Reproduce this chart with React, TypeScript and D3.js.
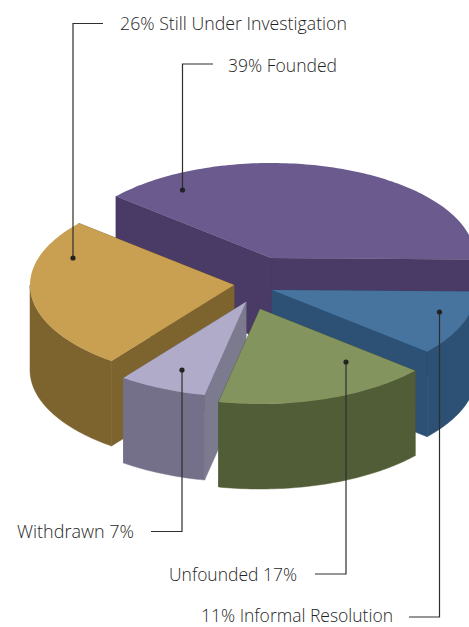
import React from "react";
import * as d3 from "d3";

// Complaint outcomes, clockwise starting from the purple slice.
const categories = ["Founded", "Informal Resolution", "Unfounded", "Withdrawn", "Still Under Investigation"];
const shares = [39, 11, 17, 7, 26];
const labelTexts = ["39% Founded", "11% Informal Resolution", "Unfounded 17%", "Withdrawn 7%", "26% Still Under Investigation"];

const topColors = ["#6a5a8d", "#47749f", "#84945f", "#afabc9", "#c9a052"];
const outerWallColors = ["#4a3a66", "#2c5174", "#515d36", "#747089", "#7d632e"];
const edgeWallColors = ["#4a3a66", "#2c5174", "#515d36", "#7b7a8f", "#7d632e"];

// Pull-out of each slice from the pie's centre, in pixels.
const explodeX = [0, 1, -11, -25, -37];
const explodeY = [0, 32, 51, 44, 27];

// Layout of the leader lines and their captions, same order as categories.
const labelX = [228, 201, 169, 17, 120];
const labelWidth = [109, 192, 128, 117, 227];
const labelBaseline = [72, 622, 581, 538, 30];
const elbowX = [182.5, 439.5, 346, 182, 73];
const elbowY = [64, 617, 574, 531.5, 23.5];
const leaderStartX = [213, 409, 315, 151, 103];
const dotY = [190, 312, 362, 370, 258];

const WIDTH = 469;
const HEIGHT = 627;
const CENTER_X = 271;
const CENTER_Y = 258;
const RADIUS_X = 204;
const RADIUS_Y = 95;
const DEPTH = 85;

// Unit circle to tilted-disc coordinates.
const xScale = d3.scaleLinear().domain([-1, 1]).range([CENTER_X - RADIUS_X, CENTER_X + RADIUS_X]);
const yScale = d3.scaleLinear().domain([-1, 1]).range([CENTER_Y - RADIUS_Y, CENTER_Y + RADIUS_Y]);

const pieAngles = d3
  .pie<number>()
  .sort(null)
  .startAngle((-49.5 * Math.PI) / 180)
  .endAngle((310.5 * Math.PI) / 180)(shares);

type Pt = [number, number];

const rim = (angle: number, i: number, drop = 0): Pt => [
  xScale(Math.sin(angle)) + explodeX[i],
  yScale(-Math.cos(angle)) + explodeY[i] + drop,
];
const apex = (i: number, drop = 0): Pt => [xScale(0) + explodeX[i], yScale(0) + explodeY[i] + drop];

const sampleAngles = (a0: number, a1: number) => {
  const n = Math.max(2, Math.ceil(Math.abs(a1 - a0) / 0.02));
  return d3.range(n + 1).map((k) => a0 + ((a1 - a0) * k) / n);
};

const polygon = d3.line<Pt>().curve(d3.curveLinearClosed);

function sliceParts(i: number) {
  const { startAngle, endAngle } = pieAngles[i];
  const top = polygon([apex(i), ...sampleAngles(startAngle, endAngle).map((a) => rim(a, i))]) as string;
  const edge = (a: number) => polygon([apex(i), rim(a, i), rim(a, i, DEPTH), apex(i, DEPTH)]) as string;
  // Only the part of the rim facing the viewer has a visible side.
  const frontStart = Math.max(startAngle, Math.PI / 2);
  const frontEnd = Math.min(endAngle, (3 * Math.PI) / 2);
  const arcPts = frontEnd > frontStart ? sampleAngles(frontStart, frontEnd) : [];
  const outer = arcPts.length
    ? (polygon([...arcPts.map((a) => rim(a, i)), ...arcPts.slice().reverse().map((a) => rim(a, i, DEPTH))]) as string)
    : null;
  return { top, edges: [edge(startAngle), edge(endAngle)], outer };
}

// Back-to-front painting order.
const paintOrder = [0, 1, 4, 3, 2];

export default function App() {
  return (
    <svg
      width={WIDTH}
      height={HEIGHT}
      viewBox={`0 0 ${WIDTH} ${HEIGHT}`}
      style={{ position: "absolute", left: 0, top: 0, background: "#fff" }}
    >
      {paintOrder.map((i) => {
        const s = sliceParts(i);
        return (
          <g key={categories[i]}>
            {s.edges.map((d, k) => (
              <path key={k} d={d} fill={edgeWallColors[i]} stroke={edgeWallColors[i]} strokeWidth={0.5} />
            ))}
            {s.outer && <path d={s.outer} fill={outerWallColors[i]} stroke={outerWallColors[i]} strokeWidth={0.5} />}
            <path d={s.top} fill={topColors[i]} />
          </g>
        );
      })}
      {categories.map((c, i) => (
        <g key={c}>
          <path
            d={`M${leaderStartX[i]},${elbowY[i]}H${elbowX[i]}V${dotY[i]}`}
            fill="none"
            stroke="#2e2e2e"
            strokeWidth={1.2}
          />
          <circle cx={elbowX[i]} cy={dotY[i]} r={2.6} fill="#222" />
          <text
            x={labelX[i]}
            y={labelBaseline[i]}
            textLength={labelWidth[i]}
            lengthAdjust="spacingAndGlyphs"
            fontFamily="'Open Sans', 'Noto Sans', sans-serif"
            fontWeight={300}
            fontSize={17.5}
            fill="#1f1f1f"
          >
            {labelTexts[i]}
          </text>
        </g>
      ))}
    </svg>
  );
}
